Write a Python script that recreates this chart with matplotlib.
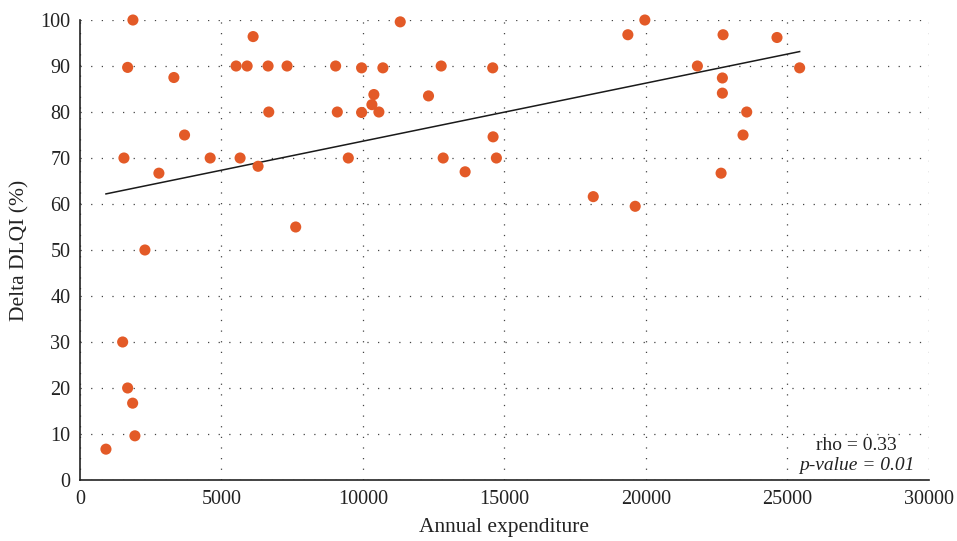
import numpy as np
import matplotlib
matplotlib.use("Agg")
import matplotlib.pyplot as plt

plt.rcParams['font.family'] = ['Liberation Serif', 'DejaVu Serif']

expenditure = [917, 1940, 1860, 1683, 1507, 2294, 2788, 1553, 3694, 3317, 1683, 1870,
               4600, 5517, 5906, 6117, 5657, 6292, 6646, 6670, 7317, 7622,
               9033, 9092, 9481, 9951, 9951, 10315, 10385, 10562, 10703, 11316,
               12315, 12763, 12833, 13609, 14584, 14597, 14714,
               18137, 19360, 19619, 19960, 21817, 22700, 22700, 22724, 22654,
               23430, 23560, 24630, 25430]
delta_dlqi = [6.7, 9.6, 16.7, 20.0, 30.0, 50.0, 66.7, 70.0, 75.0, 87.5, 89.7, 100.0,
              70.0, 90.0, 90.0, 96.4, 70.0, 68.2, 90.0, 80.0, 90.0, 55.0,
              90.0, 80.0, 70.0, 89.6, 79.9, 81.6, 83.8, 80.0, 89.6, 99.6,
              83.5, 90.0, 70.0, 67.0, 89.6, 74.6, 70.0,
              61.6, 96.8, 59.5, 100.0, 90.0, 87.4, 84.1, 96.8, 66.7,
              75.0, 80.0, 96.2, 89.6]

x_ticks = [0, 5000, 10000, 15000, 20000, 25000, 30000]
y_ticks = [0, 10, 20, 30, 40, 50, 60, 70, 80, 90, 100]

fig = plt.figure(figsize=(9.57, 5.41), dpi=100)
ax = fig.add_axes([0.0836, 0.1128, 0.8871, 0.8502])

ax.scatter(expenditure, delta_dlqi, s=64, color='#E35A27', zorder=3, clip_on=False,
           edgecolors='none')

xa = np.array(expenditure, dtype=float)
ya = np.array(delta_dlqi, dtype=float)
k, b = np.polyfit(xa, ya, 1)
xl = np.array([xa.min(), xa.max()])
ax.plot(xl, k * xl + b, color='#1a1a1a', lw=1.1, zorder=2)

ax.set_xlim(0, 30000)
ax.set_ylim(0, 100)
ax.set_xticks(x_ticks)
ax.set_yticks(y_ticks)
ax.tick_params(length=0, labelsize=14.5, colors='#222222', pad=7)
ax.grid(True, color='#444444', linestyle=(0, (1, 7.5)), linewidth=0.9, zorder=0)
for s in ['top', 'right']:
    ax.spines[s].set_visible(False)
for s in ['left', 'bottom']:
    ax.spines[s].set_color('#222222')
    ax.spines[s].set_linewidth(1.2)

ax.set_xlabel('Annual expenditure', fontsize=15.5, color='#222222', labelpad=7)
ax.set_ylabel('Delta DLQI (%)', fontsize=15.5, color='#222222', labelpad=8)

ax.text(0.915, 0.075, 'rho = 0.33', transform=ax.transAxes, ha='center', va='center',
        fontsize=14, color='#222222')
ax.text(0.915, 0.032, 'p-value = 0.01', transform=ax.transAxes, ha='center', va='center',
        fontsize=14, style='italic', color='#222222')

fig.savefig('out.png', dpi=100)
